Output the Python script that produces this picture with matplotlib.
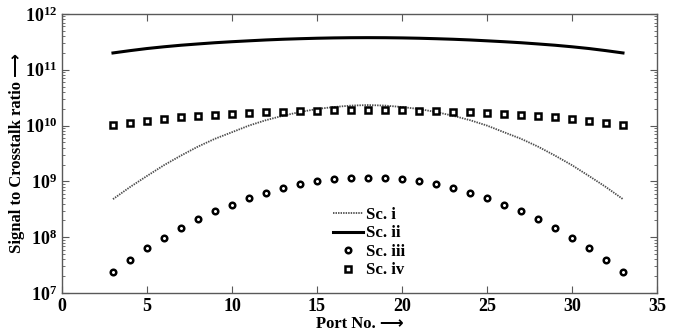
import numpy as np
import matplotlib.pyplot as plt
from matplotlib.ticker import LogLocator, NullFormatter, FixedLocator

plt.rcParams['font.family'] = ['Liberation Serif', 'DejaVu Sans']
plt.rcParams['font.weight'] = 'bold'
plt.rcParams['mathtext.fontset'] = 'custom'
plt.rcParams['mathtext.rm'] = 'Liberation Serif:bold'
plt.rcParams['mathtext.bf'] = 'Liberation Serif:bold'

# 端口号 3..33
ports = list(range(3, 34))

# Sc. i 点线
sc_i_half = [4.8e8, 7.9e8, 1.25e9, 1.95e9, 2.9e9, 4.2e9, 5.8e9, 7.6e9,
             1.0e10, 1.25e10, 1.5e10, 1.75e10, 1.98e10, 2.15e10, 2.28e10, 2.33e10]
# Sc. ii 实线
sc_ii_half = [2.0e11, 2.2e11, 2.4e11, 2.58e11, 2.75e11, 2.9e11, 3.05e11, 3.18e11,
              3.3e11, 3.42e11, 3.52e11, 3.6e11, 3.67e11, 3.72e11, 3.75e11, 3.76e11]
# Sc. iii 圆点
sc_iii_half = [2.4e7, 3.95e7, 6.3e7, 9.8e7, 1.44e8, 2.09e8, 2.9e8, 3.8e8,
               5.1e8, 6.3e8, 7.6e8, 8.9e8, 1.0e9, 1.1e9, 1.15e9, 1.17e9]
# Sc. iv 方点
sc_iv_half = [1.02e10, 1.12e10, 1.2e10, 1.31e10, 1.41e10, 1.49e10, 1.55e10, 1.62e10,
              1.69e10, 1.74e10, 1.78e10, 1.82e10, 1.85e10, 1.87e10, 1.89e10, 1.9e10]

# 关于 18 号端口对称
sc_i = sc_i_half + sc_i_half[-2::-1]
sc_ii = sc_ii_half + sc_ii_half[-2::-1]
sc_iii = sc_iii_half + sc_iii_half[-2::-1]
sc_iv = sc_iv_half + sc_iv_half[-2::-1]

fig = plt.figure(figsize=(6.78, 3.32), dpi=100)
ax = fig.add_axes([0.0914, 0.1175, 0.8776, 0.8405])

ax.plot(ports, sc_i, linestyle=(0, (0.8, 0.6)), color='0.3', lw=1.3, label='Sc. i')
ax.plot(ports, sc_ii, '-', color='black', lw=2.2, label='Sc. ii')
ax.plot(ports, sc_iii, 'o', mfc='white', mec='black', mew=1.8, ms=4, ls='none', label='Sc. iii')
ax.plot(ports, sc_iv, 's', mfc='white', mec='black', mew=1.8, ms=4.2, ls='none', label='Sc. iv')

ax.set_yscale('log')
ax.set_xlim(0, 35)
ax.set_ylim(1e7, 1e12)
ax.xaxis.set_major_locator(FixedLocator([0, 5, 10, 15, 20, 25, 30, 35]))
ax.yaxis.set_major_locator(LogLocator(base=10))
ax.yaxis.set_minor_locator(LogLocator(base=10, subs=np.arange(2, 10)))
ax.yaxis.set_minor_formatter(NullFormatter())
ax.tick_params(which='both', direction='in', top=True, right=True, labelsize=13, color='0.35')
ax.tick_params(which='major', length=5)
ax.tick_params(which='minor', length=2.5)
for lab in ax.get_xticklabels():
    lab.set_fontweight('bold')
for s in ax.spines.values():
    s.set_color('0.35')
    s.set_linewidth(1.0)

ax.set_xlabel('Port No. \u27f6', fontsize=12, fontweight='bold', labelpad=1)
ax.set_ylabel('Signal to Crosstalk ratio \u27f6', fontsize=12, fontweight='bold', labelpad=0)

leg = ax.legend(loc='upper left', bbox_to_anchor=(0.43, 0.362), frameon=False,
                handlelength=1.8, handletextpad=0.2, labelspacing=0.15,
                prop={'weight': 'bold', 'size': 12})

fig.savefig('out.png', dpi=100)
